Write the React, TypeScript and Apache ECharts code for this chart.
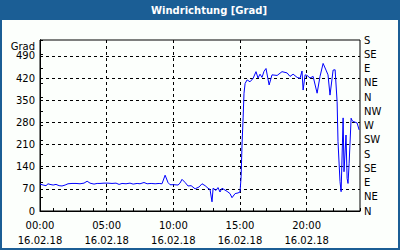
import React, { useEffect, useRef } from 'react';
import * as echarts from 'echarts';

// minutes since 00:00 on 16.02.18
const times = [
  0, 14, 27, 36, 45, 59, 72, 86, 99, 113, 126, 144, 162, 180, 198, 212, 225, 243, 257, 270,
  288, 306, 324, 342, 356, 369, 387, 405, 419, 437, 450, 468, 482, 500, 518, 536, 549, 563, 576, 585,
  603, 621, 630, 639, 653, 666, 680, 698, 716, 729, 743, 756, 765, 774, 779, 792, 801, 810, 819, 828,
  842, 855, 864, 878, 891, 900, 905, 909, 914, 918, 923, 932, 945, 959, 972, 981, 990, 999, 1008, 1017,
  1031, 1044, 1067, 1089, 1112, 1125, 1139, 1157, 1170, 1179, 1184, 1193, 1202, 1215, 1229, 1247, 1260, 1274, 1287, 1296,
  1305, 1319, 1328, 1337, 1341, 1350, 1355, 1364, 1368, 1377, 1382, 1386, 1391, 1400, 1404, 1409, 1427, 1436,
];
// wind direction in degrees
const values = [
  85, 82, 80, 86, 84, 82, 84, 80, 79, 82, 86, 87, 87, 86, 88, 94, 88, 85, 87, 87,
  88, 88, 87, 88, 84, 87, 86, 88, 85, 87, 86, 90, 86, 87, 86, 87, 86, 113, 90, 83,
  83, 82, 88, 100, 90, 79, 80, 70, 76, 86, 80, 72, 68, 29, 72, 65, 74, 60, 72, 68,
  62, 55, 42, 55, 57, 60, 108, 208, 294, 372, 403, 414, 408, 419, 440, 420, 432, 422, 441, 450,
  398, 430, 428, 440, 436, 425, 432, 422, 419, 442, 382, 430, 428, 420, 425, 372, 425, 466, 445, 430,
  366, 445, 446, 345, 219, 93, 61, 294, 124, 240, 103, 87, 150, 293, 286, 283, 278, 256,
];

const compass = ['N', 'NE', 'E', 'SE', 'S', 'SW', 'W', 'NW', 'N', 'NE', 'E', 'SE', 'S'];
const dateLabel = '16.02.18';
const titleText = 'Windrichtung [Grad]';
const unitText = 'Grad';

const FONT = 'DejaVu Sans';

function fmtTime(v: number): string {
  const h = Math.floor(v / 60);
  const m = Math.round(v % 60);
  return String(h).padStart(2, '0') + ':' + String(m).padStart(2, '0') + '\n' + dateLabel;
}

export default function App() {
  const ref = useRef<HTMLDivElement>(null);
  useEffect(() => {
    document.body.style.margin = '0';
    if (!ref.current) return;
    const chart = echarts.init(ref.current, undefined, { renderer: 'svg' });
    chart.setOption({
      animation: false,
      backgroundColor: 'transparent',
      textStyle: { fontFamily: FONT },
      grid: {
        left: 40, right: 40, top: 40, bottom: 39,
        show: true, borderColor: '#000', borderWidth: 1, backgroundColor: 'transparent',
      },
      graphic: [
        {
          type: 'text', x: 209, y: 10,
          style: {
            text: titleText, fill: '#ffffff', font: 'bold 10px "DejaVu Sans"',
            textAlign: 'center', textVerticalAlign: 'middle',
          },
        },
        {
          type: 'text', x: 35, y: 46,
          style: {
            text: unitText, fill: '#000', font: '10px "DejaVu Sans"',
            textAlign: 'right', textVerticalAlign: 'middle',
          },
        },
      ],
      xAxis: [
        {
          type: 'value', min: 0, max: 1440, interval: 300, position: 'bottom',
          axisLine: { show: true, lineStyle: { color: '#000', width: 1 } },
          axisTick: { show: false },
          splitLine: {
            show: true, showMinLine: false, showMaxLine: false,
            lineStyle: { color: '#000', type: [3, 3], width: 1 },
          },
          axisLabel: {
            formatter: fmtTime, showMaxLabel: false, color: '#000',
            fontSize: 10, fontFamily: FONT, lineHeight: 15, margin: 7,
          },
        },
        {
          type: 'value', min: 0, max: 1440, interval: 60, position: 'bottom',
          axisLine: { show: false },
          axisTick: { show: true, inside: true, length: 3, lineStyle: { color: '#000' } },
          axisLabel: { show: false },
          splitLine: { show: false },
        },
      ],
      yAxis: [
        {
          type: 'value', min: 0, max: 540, interval: 70, position: 'left',
          axisLine: { show: true, lineStyle: { color: '#000' } },
          axisTick: { show: false },
          axisLabel: { color: '#000', fontSize: 10, fontFamily: FONT, margin: 5, showMaxLabel: false },
          splitLine: {
            show: true, showMinLine: false, showMaxLine: false,
            lineStyle: { color: '#000', type: [3, 3], width: 1 },
          },
        },
        {
          type: 'value', min: 0, max: 540, interval: 45, position: 'right',
          axisLine: { show: true, lineStyle: { color: '#000' } },
          axisTick: { show: true, length: 3, lineStyle: { color: '#000' } },
          axisLabel: {
            color: '#000', fontSize: 10, fontFamily: FONT, margin: 4,
            formatter: (v: number) => compass[Math.round(v / 45)] ?? '',
          },
          splitLine: { show: false },
        },
      ],
      series: [
        {
          type: 'line', xAxisIndex: 0, yAxisIndex: 0,
          data: times.map((t, i) => [t, values[i]]),
          showSymbol: false, symbol: 'none',
          lineStyle: { color: '#0000ff', width: 1 },
          itemStyle: { color: '#0000ff' },
        },
      ],
    });
    return () => chart.dispose();
  }, []);

  return (
    <div style={{ position: 'relative', width: 400, height: 250, background: '#1b5e95' }}>
      <div style={{ position: 'absolute', left: 2, top: 20, width: 396, height: 228, background: '#fcfffc' }} />
      <div ref={ref} style={{ position: 'absolute', left: 0, top: 0, width: 400, height: 250 }} />
    </div>
  );
}
